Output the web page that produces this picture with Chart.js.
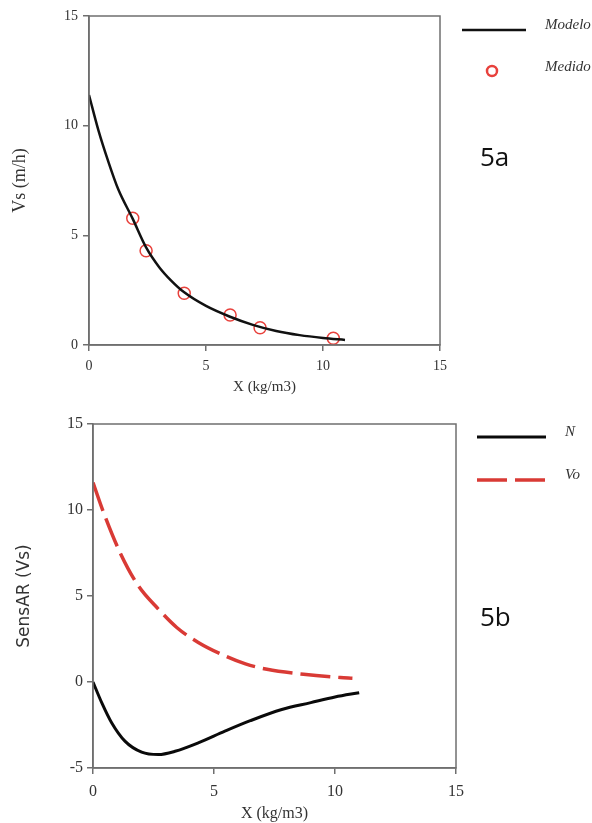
<!DOCTYPE html>
<html>
<head>
<meta charset="utf-8">
<script src="https://cdn.jsdelivr.net/npm/chart.js@4/dist/chart.umd.min.js"></script>
<style>
  body { margin: 0; background: #fff; width: 592px; height: 823px; position: relative; overflow: hidden; }
  canvas { position: absolute; left: 0; }
  #fig5a { top: 0; }
  #fig5b { top: 400px; }
  .rotulo { position: absolute; font-family: "Open Sans", sans-serif; font-size: 26px; line-height: 26px; color: #111; }
</style>
</head>
<body>
<canvas id="fig5a" width="592" height="400"></canvas>
<canvas id="fig5b" width="592" height="423"></canvas>
<div class="rotulo" style="left:480px;top:143px">5a</div>
<div class="rotulo" style="left:480px;top:603px">5b</div>
<script>
// Fig 5a: velocidad de sedimentacion, modelo vs medido
const modeloX = [0, 0.4, 0.83, 1.25, 1.87, 2.44, 3.0, 3.5, 4.07, 5.0, 6.0, 7.0, 8.0, 9.0, 10.0, 10.94];
const modeloY = [11.4, 9.8, 8.35, 7.1, 5.75, 4.45, 3.55, 2.95, 2.4, 1.78, 1.3, 0.92, 0.64, 0.45, 0.32, 0.23];
const medidoX = [1.87, 2.44, 4.07, 6.03, 7.31, 10.44];
const medidoY = [5.78, 4.30, 2.36, 1.37, 0.79, 0.31];

// Fig 5b: sensibilidad de Vs a N y Vo
const sensNX = [0, 0.36, 0.77, 1.32, 2.01, 2.70, 3.39, 4.35, 5.45, 6.5, 7.8, 9.0, 10.0, 11.0];
const sensNY = [0, -1.2, -2.37, -3.44, -4.08, -4.22, -4.03, -3.54, -2.86, -2.25, -1.6, -1.2, -0.87, -0.62];
const sensVoX = [0, 0.43, 1.11, 1.87, 2.70, 3.46, 4.35, 5.45, 6.3, 7.19, 8.70, 10.22, 10.72];
const sensVoY = [11.6, 9.88, 7.55, 5.60, 4.24, 3.17, 2.30, 1.52, 1.05, 0.74, 0.45, 0.26, 0.22];

const xTicks = [0, 5, 10, 15];
const yTicksA = [0, 5, 10, 15];
const yTicksB = [-5, 0, 5, 10, 15];

const pts = (xs, ys) => xs.map((x, i) => ({ x: x, y: ys[i] }));

const caja = {
  id: 'caja',
  afterDraw(chart) {
    const { ctx, chartArea: a } = chart;
    ctx.save();
    ctx.strokeStyle = '#6f6f6f';
    ctx.lineWidth = 1.5;
    ctx.strokeRect(a.left, a.top, a.right - a.left, a.bottom - a.top);
    ctx.restore();
  }
};

const leyenda = {
  id: 'leyenda',
  afterDraw(chart, args, opts) {
    const ctx = chart.ctx;
    opts.items.forEach(it => {
      const ds = chart.data.datasets[it.ds];
      ctx.save();
      if (it.kind === 'line') {
        ctx.strokeStyle = ds.borderColor;
        ctx.lineWidth = ds.borderWidth;
        ctx.setLineDash(ds.borderDash || []);
        ctx.beginPath();
        ctx.moveTo(it.x1, it.y);
        ctx.lineTo(it.x2, it.y);
        ctx.stroke();
      } else {
        ctx.strokeStyle = ds.pointBorderColor;
        ctx.lineWidth = 2.5;
        ctx.beginPath();
        ctx.arc(it.x1, it.y, 5, 0, Math.PI * 2);
        ctx.stroke();
      }
      ctx.setLineDash([]);
      ctx.fillStyle = '#333';
      ctx.font = 'italic 15px "Liberation Serif"';
      ctx.textBaseline = 'middle';
      ctx.fillText(ds.label, it.tx, it.ty);
      ctx.restore();
    });
  }
};

function ejes(c) {
  return {
    x: {
      type: 'linear', min: 0, max: 15,
      afterBuildTicks: s => { s.ticks = xTicks.map(v => ({ value: v })); },
      ticks: { color: '#333', font: { family: 'Liberation Serif', size: c.tick }, padding: c.xpad },
      grid: { drawOnChartArea: false, tickLength: 6, color: '#6f6f6f', lineWidth: 1.5 },
      border: { color: '#6f6f6f', width: 1.5 },
      title: { display: true, text: 'X (kg/m3)', color: '#333',
               font: { family: 'Liberation Serif', size: c.xtitle }, padding: { top: 0, bottom: c.xtpad } },
      afterFit: s => { s.height = c.h; }
    },
    y: {
      type: 'linear', min: c.ymin, max: 15,
      afterBuildTicks: s => { s.ticks = c.yticks.map(v => ({ value: v })); },
      ticks: { color: '#333', font: { family: 'Liberation Serif', size: c.tick }, padding: c.ypad },
      grid: { drawOnChartArea: false, tickLength: 6, color: '#6f6f6f', lineWidth: 1.5 },
      border: { color: '#6f6f6f', width: 1.5 },
      title: { display: true, text: c.ytitle, color: '#333', font: c.yfont, padding: { top: c.ytpad, bottom: 0 } },
      afterFit: s => { s.width = c.w; }
    }
  };
}

const base = {
  responsive: false,
  animation: false,
  events: [],
  plugins: { legend: { display: false }, tooltip: { enabled: false } }
};

new Chart(document.getElementById('fig5a'), {
  type: 'scatter',
  data: {
    datasets: [
      {
        label: 'Modelo', data: pts(modeloX, modeloY), showLine: true,
        borderColor: '#111', borderWidth: 2.5, pointRadius: 0, cubicInterpolationMode: 'monotone'
      },
      {
        label: 'Medido', data: pts(medidoX, medidoY), showLine: false,
        pointRadius: 6, pointBorderWidth: 1.5, pointBorderColor: '#e8413c', pointBackgroundColor: 'rgba(0,0,0,0)'
      }
    ]
  },
  options: Object.assign({}, base, {
    layout: { padding: { top: 16, right: 152, left: 0, bottom: 0 } },
    scales: ejes({ tick: 14, xpad: 7, ypad: 5, xtitle: 15, xtpad: 4, h: 55, w: 89, ymin: 0, yticks: yTicksA,
                   ytitle: 'Vs (m/h)', yfont: { family: 'Liberation Serif', size: 18 }, ytpad: 9 }),
    plugins: Object.assign({}, base.plugins, {
      leyenda: { items: [
        { ds: 0, kind: 'line', x1: 462, x2: 526, y: 30, tx: 545, ty: 25 },
        { ds: 1, kind: 'point', x1: 492, y: 71, tx: 545, ty: 67 }
      ] }
    })
  }),
  plugins: [caja, leyenda]
});

new Chart(document.getElementById('fig5b'), {
  type: 'scatter',
  data: {
    datasets: [
      {
        label: 'N', data: pts(sensNX, sensNY), showLine: true,
        borderColor: '#0a0a0a', borderWidth: 3, pointRadius: 0, cubicInterpolationMode: 'monotone'
      },
      {
        label: 'Vo', data: pts(sensVoX, sensVoY), showLine: true,
        borderColor: '#d93a35', borderWidth: 3.5, borderDash: [30, 8], pointRadius: 0, cubicInterpolationMode: 'monotone'
      }
    ]
  },
  options: Object.assign({}, base, {
    layout: { padding: { top: 24, right: 136, left: 0, bottom: 0 } },
    scales: ejes({ tick: 16, xpad: 8, ypad: 4, xtitle: 16, xtpad: 0, h: 55, w: 93, ymin: -5, yticks: yTicksB,
                   ytitle: 'SensAR (Vs)', yfont: { family: 'DejaVu Sans', size: 17 }, ytpad: 14 }),
    plugins: Object.assign({}, base.plugins, {
      leyenda: { items: [
        { ds: 0, kind: 'line', x1: 477, x2: 546, y: 37, tx: 565, ty: 32 },
        { ds: 1, kind: 'line', x1: 477, x2: 546, y: 80, tx: 565, ty: 75 }
      ] }
    })
  }),
  plugins: [caja, leyenda]
});
</script>
</body>
</html>
